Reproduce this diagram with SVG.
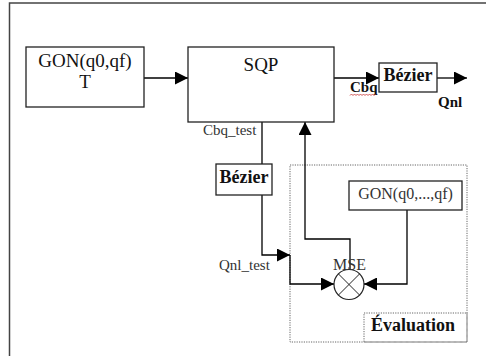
<svg xmlns="http://www.w3.org/2000/svg" width="486" height="356" viewBox="0 0 486 356">
<style>
  .box{fill:#fff;stroke:#222;stroke-width:1.3}
  .dot{fill:none;stroke:#666;stroke-width:1;stroke-dasharray:1.2,1.2}
  .ln{fill:none;stroke:#000;stroke-width:1.3}
  .t{font-family:"Liberation Serif","Times New Roman",serif;fill:#111}
  .b{font-weight:bold}
  .lt{fill:#333}
</style>
<defs>
  <marker id="ah" markerUnits="userSpaceOnUse" markerWidth="13" markerHeight="13" refX="13" refY="6.5" orient="auto">
    <path d="M0,0 L13,6.5 L0,13 z" fill="#000"/>
  </marker>
</defs>
<rect width="486" height="356" fill="#fff"/>
<path d="M9.5,356 V3 H486" fill="none" stroke="#444" stroke-width="1.5"/>

<g id="evaluation">
  <rect class="dot" x="290" y="165" width="177" height="177"/>
  <rect class="dot" x="364" y="313" width="103" height="29"/>
  <text class="t b" x="413" y="331" font-size="18" text-anchor="middle">Évaluation</text>
</g>

<g id="connectors">
  <path class="ln" d="M144,78 H188" marker-end="url(#ah)"/>
  <path class="ln" d="M334,78 H379" marker-end="url(#ah)"/>
  <path class="ln" d="M437,78 H467" marker-end="url(#ah)"/>
  <path class="ln" d="M262,122 V164"/>
  <path class="ln" d="M262,195 V255 H290" marker-end="url(#ah)"/>
  <path class="ln" d="M290,255 V284 H334" marker-end="url(#ah)"/>
  <path class="ln" d="M407,210 V284 H364" marker-end="url(#ah)"/>
  <path class="ln" d="M350,270 V239 H305 V122" marker-end="url(#ah)"/>
</g>

<g id="gon">
  <rect class="box" x="26" y="47" width="118" height="60"/>
  <text class="t" x="85" y="67" font-size="19" text-anchor="middle">GON(q0,qf)</text>
  <text class="t" x="85" y="88" font-size="19" text-anchor="middle">T</text>
</g>

<g id="sqp">
  <rect class="box" x="188" y="47" width="146" height="75"/>
  <text class="t" x="261" y="71" font-size="19" text-anchor="middle">SQP</text>
  <text class="t lt" x="203" y="135" font-size="15">Cbq_test</text>
</g>

<g id="bezier-out">
  <rect class="box" x="379" y="63" width="58" height="29"/>
  <text class="t b" x="408" y="81" font-size="18" text-anchor="middle">Bézier</text>
  <text class="t b" x="350" y="92" font-size="15">Cbq</text>
  <path d="M350,95.5 l1.5,-1.5 l1.5,1.5 l1.5,-1.5 l1.5,1.5 l1.5,-1.5 l1.5,1.5 l1.5,-1.5 l1.5,1.5 l1.5,-1.5 l1.5,1.5 l1.5,-1.5 l1.5,1.5 l1.5,-1.5 l1.5,1.5 l1.5,-1.5 l1.5,1.5 l1.5,-1.5" fill="none" stroke="#c44" stroke-width="0.9"/>
  <text class="t b" x="438" y="107" font-size="15">Qnl</text>
</g>

<g id="bezier-test">
  <rect class="box" x="216" y="164" width="56" height="31"/>
  <text class="t b" x="244" y="183" font-size="18" text-anchor="middle">Bézier</text>
  <text class="t lt" x="219" y="270" font-size="15">Qnl_test</text>
</g>

<g id="gon-ref">
  <rect class="box" x="349" y="181" width="113" height="29"/>
  <text class="t lt" x="405.5" y="199" font-size="16" text-anchor="middle">GON(q0,...,qf)</text>
</g>

<g id="mse">
  <circle cx="349" cy="284.5" r="15" fill="#fff" stroke="#222" stroke-width="1.2"/>
  <path d="M338.4,273.9 L359.6,295.1 M359.6,273.9 L338.4,295.1" stroke="#222" stroke-width="1"/>
  <text class="t lt" x="349.5" y="270" font-size="16" text-anchor="middle">MSE</text>
</g>
</svg>
